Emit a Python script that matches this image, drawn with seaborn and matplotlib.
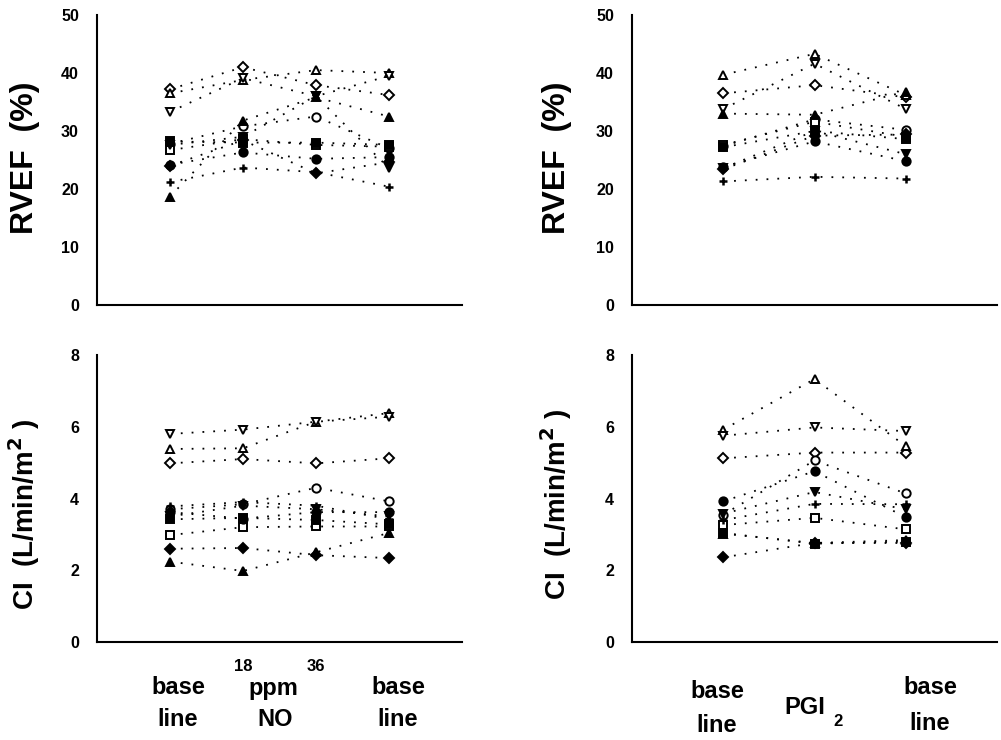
import pandas as pd
import matplotlib
matplotlib.use("Agg")
import matplotlib.pyplot as plt
import seaborn as sns

sns.set_style("white")
plt.rcParams["font.family"] = ["Liberation Sans", "DejaVu Sans"]
plt.rcParams["font.weight"] = "bold"
plt.rcParams["text.color"] = "k"
plt.rcParams["xtick.color"] = "k"
plt.rcParams["ytick.color"] = "k"

# subjects, one marker each (open / filled)
subjects = ["S1", "S2", "S3", "S4", "S5", "S6", "S7", "S8", "S9", "S10", "S11"]
markers = ["D", "^", "v", "o", "s", "+", "o", "s", "^", "v", "D"]
filled = [False, False, False, False, False, True, True, True, True, True, True]

# NO study: baseline, 18 ppm, 36 ppm, baseline
rvef_no = [
    [37.2, 41.0, 37.9, 36.2],
    [36.5, 38.8, 40.5, 40.0],
    [33.3, 39.1, 36.0, 39.5],
    [27.8, 30.8, 32.5, 27.0],
    [26.7, 28.6, 27.6, 27.3],
    [21.2, 23.7, 22.9, 20.4],
    [24.2, 26.3, 25.2, 25.5],
    [28.2, 28.0, 28.0, 27.6],
    [18.7, 31.8, 35.8, 32.5],
    [27.6, 29.0, 36.0, 23.6],
    [24.0, 28.4, 22.7, 24.6],
]
ci_no = [
    [4.98, 5.10, 4.98, 5.12],
    [5.38, 5.40, 6.14, 6.38],
    [5.80, 5.92, 6.14, 6.28],
    [3.70, 3.84, 4.30, 3.92],
    [2.98, 3.20, 3.22, 3.22],
    [3.78, 3.90, 3.80, 3.42],
    [3.62, 3.44, 3.62, 3.62],
    [3.42, 3.46, 3.40, 3.28],
    [2.24, 1.98, 2.50, 3.04],
    [3.50, 3.80, 3.70, 3.50],
    [2.60, 2.62, 2.42, 2.34],
]

# PGI2 study: baseline, PGI2, baseline
rvef_pgi = [
    [36.5, 37.9, 35.8],
    [39.7, 43.3, 36.2],
    [33.8, 41.6, 33.8],
    [27.4, 32.0, 30.2],
    [27.6, 31.6, 29.0],
    [21.3, 22.1, 21.8],
    [23.8, 28.2, 24.8],
    [27.2, 30.0, 28.6],
    [33.0, 32.8, 36.8],
    [23.6, 30.0, 26.0],
    [23.4, 29.2, 29.4],
]
ci_pgi = [
    [5.12, 5.28, 5.28],
    [5.92, 7.33, 5.46],
    [5.75, 5.98, 5.88],
    [3.55, 5.06, 4.14],
    [3.26, 3.46, 3.14],
    [3.40, 3.85, 3.84],
    [3.92, 4.76, 3.48],
    [3.04, 2.74, 2.80],
    [3.02, 2.76, 2.84],
    [3.58, 4.18, 3.70],
    [2.36, 2.76, 2.76],
]

W, H = 1001, 740


def to_long(values):
    rows = []
    for subj, vals in zip(subjects, values):
        for i, v in enumerate(vals):
            rows.append({"subject": subj, "pos": i + 1, "value": v})
    return pd.DataFrame(rows)


def draw_panel(ax, values, ymax, ystep, npos):
    df = to_long(values)
    for subj, m, f in zip(subjects, markers, filled):
        sub = df[df["subject"] == subj]
        sns.lineplot(
            data=sub, x="pos", y="value", ax=ax, color="k",
            linestyle=(0, (1, 5)), linewidth=1.3,
            marker=m, ms=5 if m == "D" else 6,
            mfc="k" if f else "white", mec="k",
            mew=1.8 if m == "+" else 1.4,
            legend=False,
        )
    ax.set_xlim(0, npos + 1)
    ax.set_ylim(0, ymax)
    ax.set_xticks(range(1, npos + 1))
    ax.set_xticklabels([])
    ax.set_yticks(range(0, ymax + 1, ystep))
    ax.tick_params(direction="in", length=4, width=1.2, labelsize=11.5, pad=13)
    for lab in ax.get_yticklabels():
        lab.set_fontweight("heavy")
    ax.set_xlabel("")
    ax.set_ylabel("")
    for s in ("top", "right"):
        ax.spines[s].set_visible(False)
    for s in ("left", "bottom"):
        ax.spines[s].set_linewidth(1.5)
        ax.spines[s].set_color("k")


fig = plt.figure(figsize=(W / 100, H / 100), dpi=100)

ax_tl = fig.add_axes([97 / W, 1 - 305 / H, 365 / W, 290 / H])
ax_bl = fig.add_axes([97 / W, 1 - 642 / H, 365 / W, 287 / H])
ax_tr = fig.add_axes([632 / W, 1 - 305 / H, 365 / W, 290 / H])
ax_br = fig.add_axes([632 / W, 1 - 642 / H, 365 / W, 287 / H])

draw_panel(ax_tl, rvef_no, 50, 10, 4)
draw_panel(ax_bl, ci_no, 8, 2, 4)
draw_panel(ax_tr, rvef_pgi, 50, 10, 3)
draw_panel(ax_br, ci_pgi, 8, 2, 3)

ax_bl.set_xticklabels(["", "18", "36", ""], fontweight="bold", fontsize=12)
ax_bl.tick_params(axis="x", pad=12)


def ftext(x, y, s, **kw):
    fig.text(x / W, 1 - y / H, s, ha="center", va="center",
             fontweight="bold", **kw)


# y axis titles
for xc in (25, 557):
    ftext(xc, 158, "RVEF  (%)", fontsize=23, rotation=90)
ftext(24, 515, "CI  (L/min/m$^{\\mathbf{2}}$ )", fontsize=20, rotation=90)
ftext(556, 505, "CI  (L/min/m$^{\\mathbf{2}}$ )", fontsize=20, rotation=90)

# x axis category texts
ftext(178, 688, "base", fontsize=17)
ftext(178, 719, "line", fontsize=17)
ftext(273, 688, "ppm", fontsize=17)
ftext(275, 719, "NO", fontsize=17)
ftext(398, 688, "base", fontsize=17)
ftext(398, 719, "line", fontsize=17)

ftext(717, 692, "base", fontsize=17)
ftext(717, 725, "line", fontsize=17)
ftext(805, 707, "PGI", fontsize=17)
ftext(838, 722, "2", fontsize=12)
ftext(930, 688, "base", fontsize=17)
ftext(930, 723, "line", fontsize=17)

fig.savefig("out.png", dpi=100)
